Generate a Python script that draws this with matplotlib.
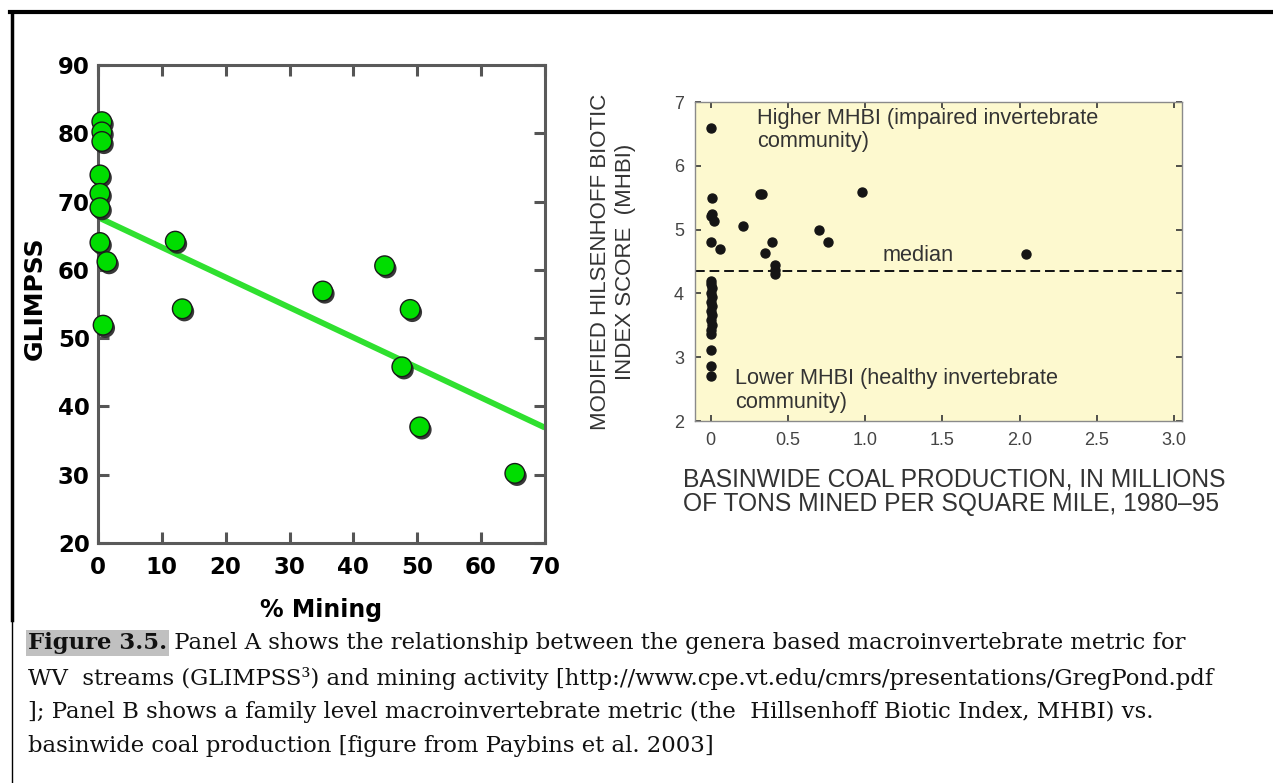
import numpy as np
import matplotlib.pyplot as plt
import matplotlib.patheffects as pe
from matplotlib.lines import Line2D

# Panel A: GLIMPSS vs % mining
mining_pct = [0.6, 0.6, 0.6, 0.3, 0.3, 0.3, 0.3, 1.4, 0.8,
              12.1, 13.2, 35.2, 44.9, 48.9, 47.6, 50.4, 65.3]
glimpss = [81.7, 80.2, 78.8, 73.9, 71.2, 69.1, 64.0, 61.2, 51.9,
           64.2, 54.3, 56.9, 60.6, 54.2, 45.8, 37.0, 30.2]
fit_x = [0, 70]
fit_y = [67.7, 36.9]

# Panel B: MHBI vs basinwide coal production
coal_prod = [0, 0.01, 0, 0.01, 0.02, 0, 0.06, 0.21, 0.32, 0.33, 0.35,
             0.40, 0.42, 0.415, 0.42, 0.70, 0.76, 0.98, 2.04,
             0, 0, 0.01, 0, 0.01, 0, 0.01, 0, 0.01, 0, 0.01, 0, 0, 0, 0, 0]
mhbi = [6.59, 5.50, 5.21, 5.24, 5.13, 4.81, 4.69, 5.06, 5.56, 5.56, 4.64,
        4.80, 4.44, 4.36, 4.31, 4.99, 4.80, 5.59, 4.62,
        4.20, 4.15, 4.08, 4.01, 3.94, 3.87, 3.80, 3.73, 3.66, 3.59, 3.51,
        3.42, 3.36, 3.12, 2.87, 2.70]
median_mhbi = 4.35

caption = [
    "WV  streams (GLIMPSS\u00b3) and mining activity [http://www.cpe.vt.edu/cmrs/presentations/GregPond.pdf",
    "]; Panel B shows a family level macroinvertebrate metric (the  Hillsenhoff Biotic Index, MHBI) vs.",
    "basinwide coal production [figure from Paybins et al. 2003]",
]

fig = plt.figure(figsize=(12.73, 7.83), dpi=100)

# ---- panel A
ax1 = fig.add_axes([0.077, 0.3065, 0.351, 0.6105])
ax1.plot(fit_x, fit_y, color='#2fe02f', lw=4.2, solid_capstyle='butt', zorder=2)
ax1.scatter(mining_pct, glimpss, s=200, c='#00dd00', edgecolors='#1a1a1a',
            linewidths=1.0, zorder=3, clip_on=False,
            path_effects=[pe.SimplePatchShadow(offset=(1.5, -2), shadow_rgbFace='#222222', alpha=0.9),
                          pe.Normal()])
ax1.set_xlim(0, 70)
ax1.set_ylim(20, 90)
ax1.set_xticks(np.arange(0, 71, 10))
ax1.set_yticks(np.arange(20, 91, 10))
for s in ax1.spines.values():
    s.set_color('#5a5a5a')
    s.set_linewidth(2.2)
ax1.tick_params(direction='in', length=8, width=2.2, color='#555555',
                top=True, right=True, labelsize=16.5, pad=6)
ax1.tick_params(axis='x', pad=9)
for lab in ax1.get_xticklabels() + ax1.get_yticklabels():
    lab.set_fontweight('bold')
ax1.set_xlabel('% Mining', fontsize=17, fontweight='bold')
ax1.set_ylabel('GLIMPSS', fontsize=18, fontweight='bold')
ax1.xaxis.set_label_coords(0.5, -0.115)
ax1.yaxis.set_label_coords(-0.115, 0.513)

# ---- panel B
ax2 = fig.add_axes([0.546, 0.4623, 0.3825, 0.4074])
ax2.set_facecolor('#fdf9cf')
ax2.axhline(median_mhbi, color='#111111', lw=1.4, ls=(0, (5, 2.5)), zorder=2)
ax2.scatter(coal_prod, mhbi, s=42, c='#151515', zorder=3)
ax2.set_xlim(-0.1, 3.05)
ax2.set_ylim(2, 7)
ax2.set_xticks(np.arange(0, 3.01, 0.5))
ax2.set_xticklabels(['0', '0.5', '1.0', '1.5', '2.0', '2.5', '3.0'])
ax2.set_yticks(range(2, 8))
for s in ax2.spines.values():
    s.set_color('#8a8a8a')
    s.set_linewidth(1.0)
ax2.tick_params(direction='in', length=4, width=1.2, color='#333333',
                top=True, right=True, labelsize=13, labelcolor='#444444', pad=8)
note_font = dict(fontsize=15.7, color='#333333', family='Liberation Sans')
ax2.text(0.30, 6.56, 'Higher MHBI (impaired invertebrate\ncommunity)',
         va='center', ha='left', linespacing=1.15, **note_font)
ax2.text(0.16, 2.48, 'Lower MHBI (healthy invertebrate\ncommunity)',
         va='center', ha='left', linespacing=1.15, **note_font)
ax2.text(1.34, 4.59, 'median', ha='center', va='center', **note_font)
ax2.set_xlabel('BASINWIDE COAL PRODUCTION, IN MILLIONS\nOF TONS MINED PER SQUARE MILE, 1980\u201395',
               fontsize=17.7, color='#333333', family='Liberation Sans', ha='left',
               linespacing=1.05)
ax2.xaxis.set_label_coords(-0.025, -0.145)
ax2.xaxis.label.set_va('top')
ax2.set_ylabel('MODIFIED HILSENHOFF BIOTIC\nINDEX SCORE  (MHBI)', fontsize=16,
               color='#333333', family='Liberation Sans', linespacing=1.2)
ax2.yaxis.set_label_coords(-0.122, 0.5)
for lab in ax2.get_xticklabels() + ax2.get_yticklabels():
    lab.set_family('Liberation Sans')

# ---- page frame
fig.add_artist(Line2D([10 / 1273, 1], [1 - 12 / 783, 1 - 12 / 783],
                      transform=fig.transFigure, color='black', lw=3))
fig.add_artist(Line2D([12 / 1273, 12 / 1273], [1 - 12 / 783, 1 - 620 / 783],
                      transform=fig.transFigure, color='black', lw=2.5))
fig.add_artist(Line2D([12 / 1273, 12 / 1273], [1 - 620 / 783, 0],
                      transform=fig.transFigure, color='black', lw=1))

# ---- caption
cap_font = dict(family='DejaVu Serif', fontsize=16.4, color='#111111')
t0 = fig.text(28 / 1273, 1 - 643 / 783, 'Figure 3.5.', fontweight='bold', va='center',
              bbox=dict(facecolor='#c0c0c0', edgecolor='none', pad=1.5), **cap_font)
plt.annotate(' Panel A shows the relationship between the genera based macroinvertebrate metric for',
             xy=(1, 0), xycoords=t0, va='bottom', ha='left', **cap_font)
for i, line in enumerate(caption):
    fig.text(28 / 1273, 1 - (678 + 34 * i) / 783, line, va='center', **cap_font)

fig.savefig('out.png', dpi=100)
